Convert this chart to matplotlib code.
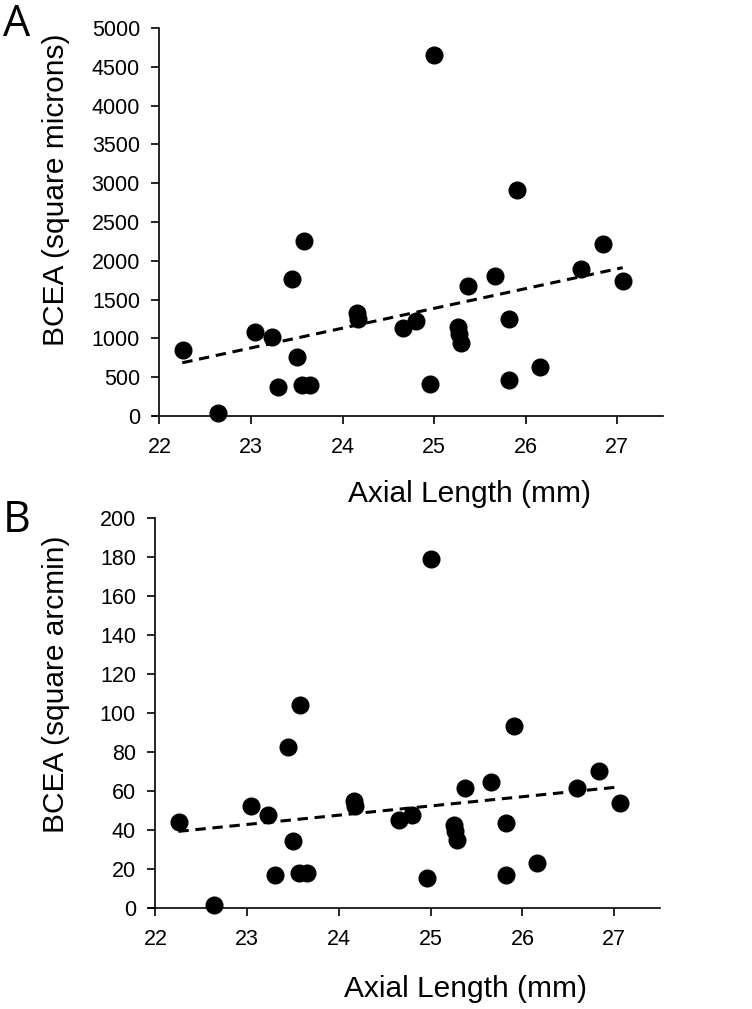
import matplotlib.pyplot as plt
import numpy as np

plt.rcParams["font.family"] = ["Liberation Sans", "DejaVu Sans"]

# axial length (mm), same subjects in both panels
axial_length = [22.26, 22.64, 23.04, 23.23, 23.30, 23.45, 23.50, 23.58, 23.56, 23.65,
                24.16, 24.17, 24.66, 24.80, 25.00, 24.96, 25.26, 25.27, 25.29, 25.37,
                25.66, 25.82, 25.82, 25.91, 26.16, 26.60, 26.84, 27.06]

# BCEA in square microns (panel A)
bcea_microns = [849, 34, 1085, 1012, 377, 1762, 763, 2255, 399, 399,
                1321, 1256, 1128, 1226, 4652, 412, 1149, 1063, 935, 1672,
                1801, 1256, 463, 2907, 635, 1900, 2221, 1741]

# BCEA in square arcmin (panel B)
bcea_arcmin = [44.1, 1.5, 52.1, 47.7, 16.9, 82.6, 34.2, 104.3, 18.0, 18.0,
               54.7, 52.1, 45.0, 47.9, 179.2, 15.6, 42.8, 39.3, 35.1, 61.6,
               64.5, 43.6, 16.9, 93.5, 23.1, 61.4, 70.5, 53.9]

# trend line end points
trend_x = [22.25, 27.06]
trend_a = [686, 1912]
trend_b = [39.3, 62.1]

W, H = 752, 1009
fig = plt.figure(figsize=(W / 100, H / 100), dpi=100)


def make_panel(rect, y, trend, ylim, ystep, ylabel, letter, letter_y, ylab_x, ylab_y, xlab_y):
    ax = fig.add_axes(rect)
    ax.plot(axial_length, y, "o", color="black", markersize=12, zorder=3,
            clip_on=False)
    ax.plot(trend_x, trend, "--", color="black", lw=2.2, dashes=(3.4, 2.2))
    ax.set_xlim(21.93, 27.5)
    ax.set_ylim(0, ylim)
    ax.set_xticks(range(22, 28))
    ax.set_yticks(np.arange(0, ylim + ystep / 2, ystep))
    ax.spines["left"].set_position(("data", 22))
    ax.spines["top"].set_visible(False)
    ax.spines["right"].set_visible(False)
    for s in ("left", "bottom"):
        ax.spines[s].set_linewidth(1.2)
    ax.tick_params(axis="y", direction="out", length=6, width=1.2, pad=8,
                   labelsize=15.5)
    ax.tick_params(axis="x", direction="out", length=6, width=1.2, pad=9,
                   labelsize=15.5)
    ax.set_xlabel("Axial Length (mm)", fontsize=21.5)
    ax.xaxis.set_label_coords(0.62, xlab_y)
    ax.set_ylabel(ylabel, fontsize=21.5)
    ax.yaxis.set_label_coords(ylab_x, ylab_y)
    fig.text(0.004, letter_y, letter, fontsize=31, family=["Open Sans", "DejaVu Sans"],
             va="top", ha="left")
    return ax


make_panel([153 / W, 1 - 416 / H, 510 / W, 388 / H], bcea_microns, trend_a, 5000, 500,
           "BCEA (square microns)", "A", 1 - 3 / H, -0.163, 0.582, -0.165)
make_panel([149 / W, 1 - 908 / H, 511 / W, 390 / H], bcea_arcmin, trend_b, 200, 20,
           "BCEA (square arcmin)", "B", 1 - 498 / H, -0.155, 0.574, -0.172)

fig.savefig("out.png", dpi=100)
